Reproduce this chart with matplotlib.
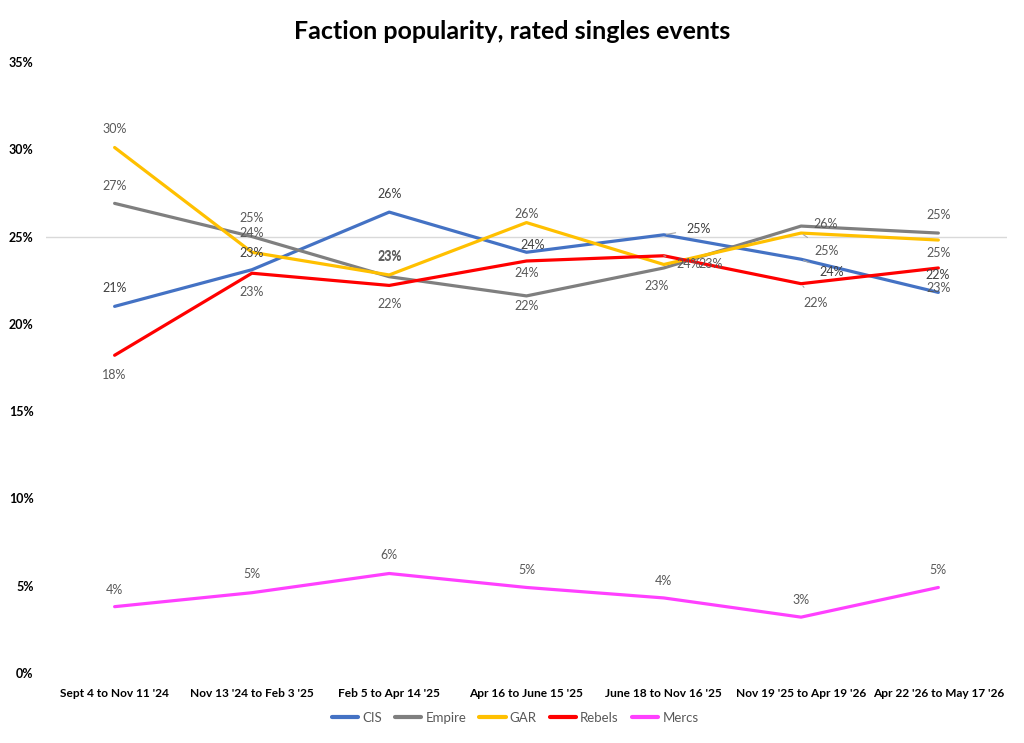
import matplotlib
matplotlib.use("Agg")
import matplotlib.pyplot as plt
from matplotlib.ticker import FuncFormatter, MultipleLocator

# ---------------- data ----------------
categories = ["Sept 4 to Nov 11 '24", "Nov 13 '24 to Feb 3 '25", "Feb 5 to Apr 14 '25",
              "Apr 16 to June 15 '25", "June 18 to Nov 16 '25", "Nov 19 '25 to Apr 19 '26",
              "Apr 22 '26 to May 17 '26"]
cis = [21.0, 23.1, 26.4, 24.1, 25.1, 23.7, 21.8]
empire = [26.9, 25.0, 22.7, 21.6, 23.2, 25.6, 25.2]
gar = [30.1, 24.1, 22.8, 25.8, 23.4, 25.2, 24.8]
rebels = [18.2, 22.9, 22.2, 23.6, 23.9, 22.3, 23.2]
mercs = [3.8, 4.6, 5.7, 4.9, 4.3, 3.2, 4.9]
series_names = ["CIS", "Empire", "GAR", "Rebels", "Mercs"]

# ---------------- style ----------------
colors = {"CIS": "#4472C4", "Empire": "#7F7F7F", "GAR": "#FFC000",
          "Rebels": "#FF0000", "Mercs": "#FF40FF"}
label_colors = {"CIS": "#404040", "Empire": "#595959", "GAR": "#595959",
                "Rebels": "#595959", "Mercs": "#595959"}
# label offsets in screen pixels (dx, dy; dy positive = down), leader flag
label_offsets = {
    "CIS": [(0, -18, 0), (0, -17, 0), (0, -18, 0), (6, -7, 0), (35, -6, 1), (31, 13, 1), (-1, -17, 0)],
    "Empire": [(0, -17, 0), (0, -19, 0), (0, -20, 0), (0, 10, 0), (-7, 18, 0), (25, -2, 0), (0, -18, 0)],
    "GAR": [(0, -19, 0), (0, -19, 0), (0, -19, 0), (0, -9, 0), (47, 0, 0), (26, 18, 1), (0, 13, 0)],
    "Rebels": [(0, 20, 0), (0, 19, 0), (0, 19, 0), (0, 12, 0), (25, 8, 1), (15, 19, 1), (0, 20, 0)],
    "Mercs": [(0, -17, 0), (0, -19, 0), (0, -18, 0), (0, -17, 0), (0, -17, 0), (0, -17, 0), (0, -17, 0)],
}

plt.rcParams["font.family"] = ["Lato", "DejaVu Sans"]

fig = plt.figure(figsize=(10.24, 7.43), dpi=100)
ax = fig.add_axes([0.0449, 0.0942, 0.9385, 0.8224])

data = {"CIS": cis, "Empire": empire, "GAR": gar, "Rebels": rebels, "Mercs": mercs}
x = list(range(len(categories)))

ax.axhline(25, color="#D9D9D9", lw=1.0, zorder=0)

for name in series_names:
    vals = data[name]
    ax.plot(x, vals, color=colors[name], lw=2.3, label=name, solid_capstyle="round", zorder=3)
    for i, v in enumerate(vals):
        dx, dy, leader = label_offsets[name][i]
        kw = {}
        if leader:
            kw["arrowprops"] = dict(arrowstyle="-", color="#A6A6A6", lw=0.8,
                                    shrinkA=6, shrinkB=2)
        ax.annotate(f"{round(v)}%", xy=(i, v), xytext=(dx, -dy), textcoords="offset pixels",
                    ha="center", va="center", fontsize=9, color=label_colors[name],
                    zorder=5, **kw)

ax.set_xlim(-0.5, len(categories) - 0.5)
ax.set_ylim(0, 35)
ax.yaxis.set_major_locator(MultipleLocator(5))
ax.yaxis.set_major_formatter(FuncFormatter(lambda v, p: f"{int(v)}%"))
ax.set_xticks(x)
ax.set_xticklabels(categories)
for lbl in ax.get_xticklabels():
    lbl.set_fontweight("bold")
    lbl.set_fontsize(8.6)
for lbl in ax.get_yticklabels():
    lbl.set_fontweight("bold")
    lbl.set_fontsize(9)
ax.tick_params(axis="both", length=0, colors="black")
ax.tick_params(axis="x", pad=11)
ax.tick_params(axis="y", pad=9)
for s in ax.spines.values():
    s.set_visible(False)

fig.suptitle("Faction popularity, rated singles events", fontsize=18, fontweight="bold",
             y=0.958, va="center")

leg = fig.legend(loc="center", bbox_to_anchor=(0.503, 0.034), ncol=5, frameon=False,
                 fontsize=9.5, handlelength=2.0, handletextpad=0.3, columnspacing=1.0,
                 labelcolor="#595959")
for h in leg.get_lines():
    h.set_linewidth(3)

fig.savefig("out.png", dpi=100)
